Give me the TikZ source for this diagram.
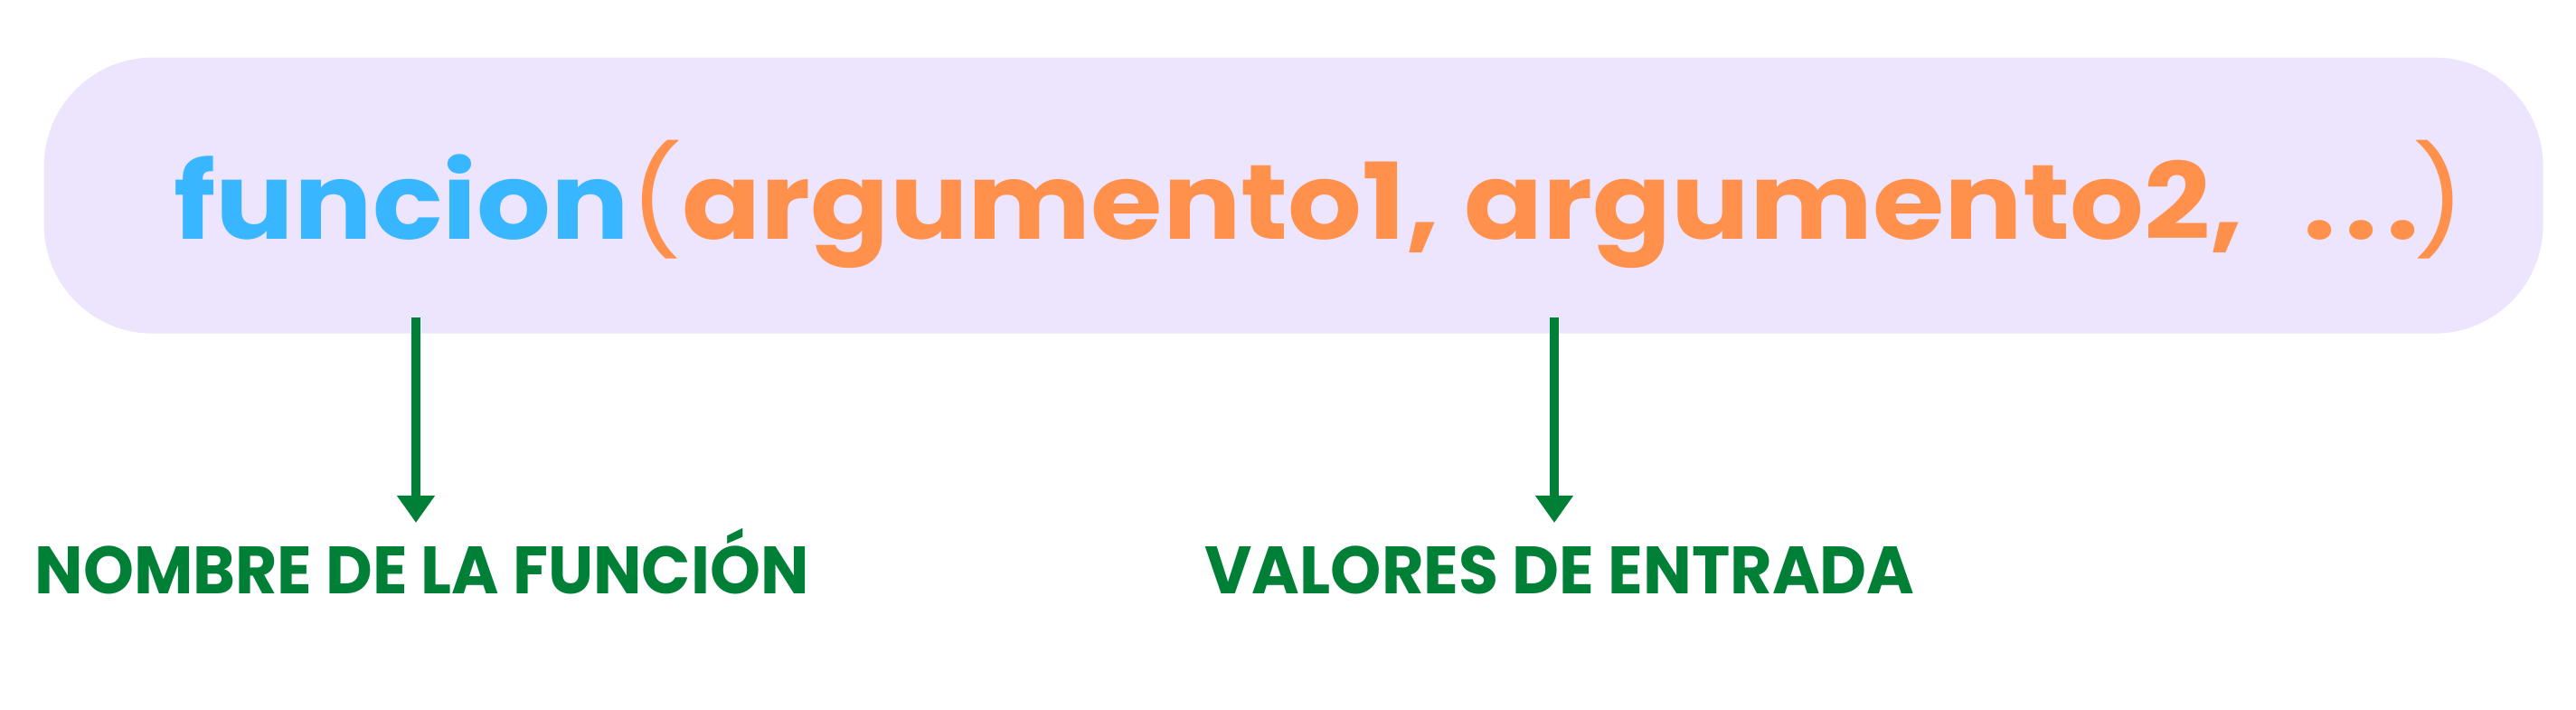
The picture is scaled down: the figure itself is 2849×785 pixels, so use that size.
\documentclass[tikz,border=0pt]{standalone}
\usepackage{fontspec}
\setmainfont{Poppins}
\usepackage{graphicx}
\usetikzlibrary{arrows.meta}
\definecolor{bgpurple}{HTML}{EDE5FD}
\definecolor{fblue}{HTML}{38B6FF}
\definecolor{forange}{HTML}{FF914D}
\definecolor{fgreen}{HTML}{008037}
\newsavebox\mainbox
\newsavebox\partbox
\newsavebox\xbox
\newsavebox\labAbox
\newsavebox\labBbox
\newsavebox\capbox
\newcommand\codefont{\fontsize{36pt}{40pt}\selectfont\bfseries}
\newcommand\labfont{\fontsize{22pt}{26pt}\selectfont\bfseries}
\newcommand\thinparen[1]{{\mdseries #1}}
\tikzset{
  arr/.style={draw=fgreen, line width=3pt, -{Triangle[length=9pt,width=12pt]}},
  lbl/.style={anchor=base west, inner sep=0pt, text=fgreen},
}
\begin{document}
\sbox\mainbox{\codefont\textcolor{fblue}{funcion}\textcolor{forange}{\thinparen{(}argumento1, argumento2, \kern11pt.\kern2.6pt.\kern2.6pt.\kern-2pt\thinparen{)}}}%
\sbox\partbox{\codefont funcion\thinparen{(}argumento1, argumento2}%
\sbox\xbox{\codefont x}%
\sbox\labAbox{\labfont\color{fgreen}NOMBRE DE LA FUNCIÓN}%
\sbox\labBbox{\labfont\color{fgreen}VALORES DE ENTRADA}%
\sbox\capbox{\labfont H}%
\pgfmathsetmacro\mainsx{675.6/\wd\partbox}%
\pgfmathsetmacro\mainsy{19.6/\ht\xbox}%
\pgfmathsetmacro\labAsx{256.8/\wd\labAbox}%
\pgfmathsetmacro\labBsx{235.5/\wd\labBbox}%
\pgfmathsetmacro\labsy{15.6/\ht\capbox}%
\begin{tikzpicture}[x=0.3pt,y=-0.3pt]
\useasboundingbox (0,0) rectangle (2849,785);
\node (box) [fill=bgpurple, rounded corners=36pt, minimum width=829.2pt, minimum height=91.5pt, inner sep=0pt, anchor=north west] at (48,63) {};
\node (code) [anchor=base west, inner sep=0pt] at (192,265) {\scalebox{\mainsx}[\mainsy]{\usebox\mainbox}};
\node (lab1) [lbl] at (38,657) {\scalebox{\labAsx}[\labsy]{\usebox\labAbox}};
\node (lab2) [lbl] at (1332,657) {\scalebox{\labBsx}[\labsy]{\usebox\labBbox}};
\coordinate (s1) at (460,351);
\coordinate (e1) at (460,578);
\coordinate (s2) at (1719,351);
\coordinate (e2) at (1719,578);
\draw[arr] (s1) -- (e1);
\draw[arr] (s2) -- (e2);
\end{tikzpicture}
\end{document}
